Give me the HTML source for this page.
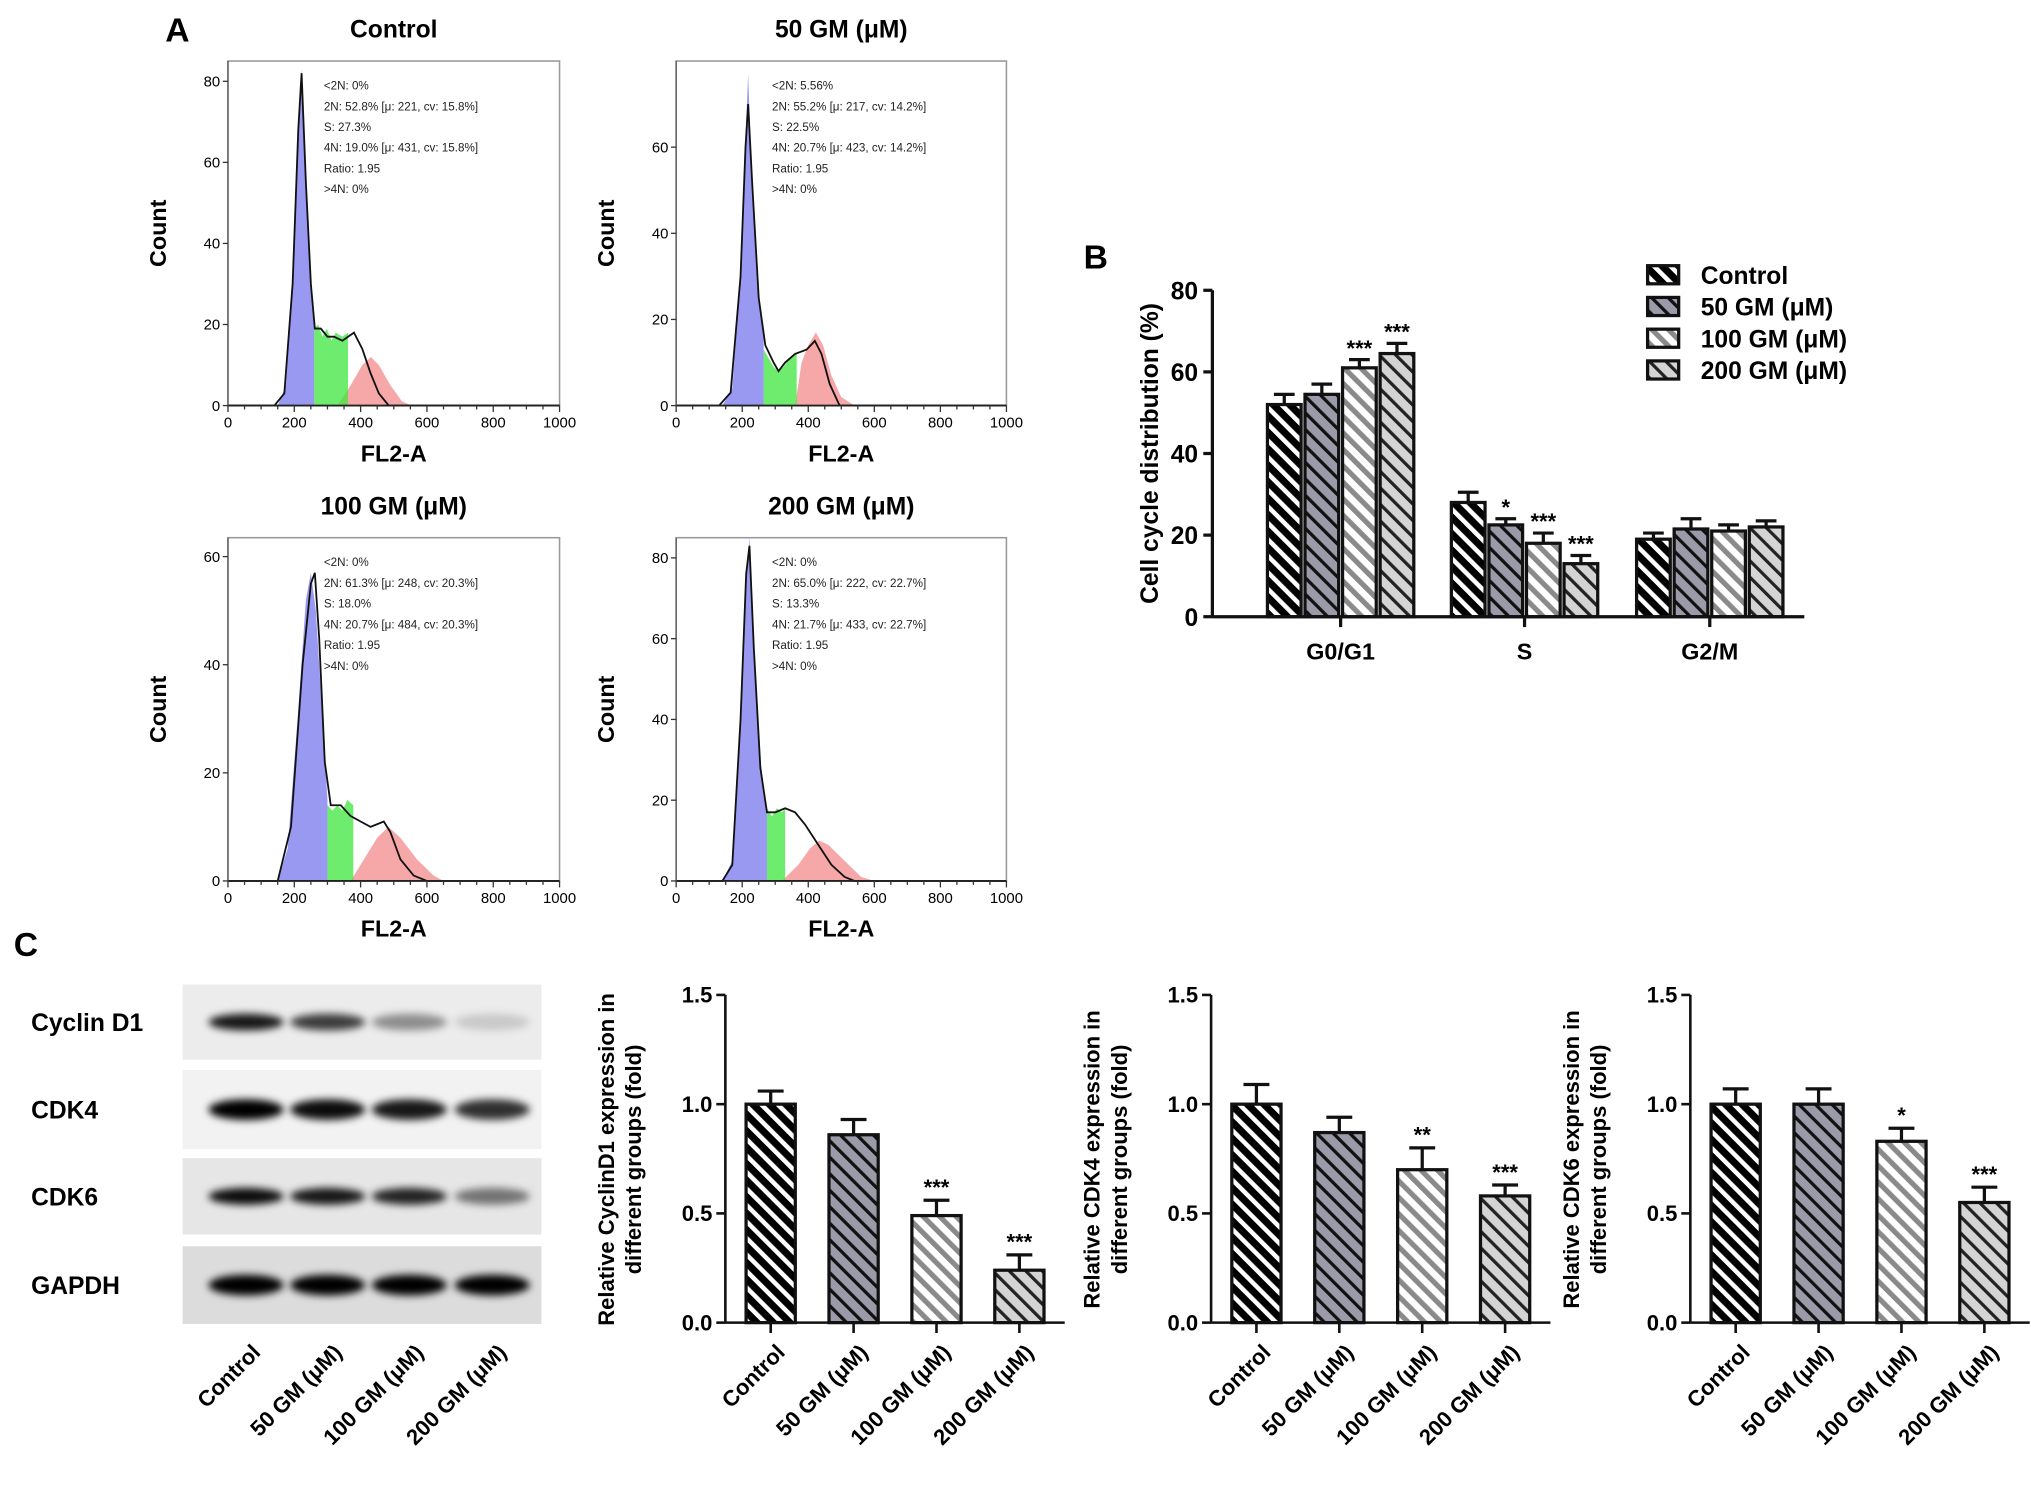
<!DOCTYPE html>
<html><head><meta charset="utf-8"><style>
html,body{margin:0;padding:0;background:#fff;}
svg{display:block;font-family:"Liberation Sans",Arial,sans-serif;}
</style></head><body>
<svg id="fig" width="2031" height="1486" viewBox="0 0 1568 1147" xmlns="http://www.w3.org/2000/svg">
<defs>
<pattern id="p0" patternUnits="userSpaceOnUse" width="9" height="9" patternTransform="rotate(-45)"><rect width="9" height="9" fill="#000"/><rect width="3.5" height="9" fill="#fff"/></pattern>
<pattern id="p1" patternUnits="userSpaceOnUse" width="9" height="9" patternTransform="rotate(-45)"><rect width="9" height="9" fill="#9a9aa8"/><rect width="2.5" height="9" fill="#111"/></pattern>
<pattern id="p2" patternUnits="userSpaceOnUse" width="9" height="9" patternTransform="rotate(-45)"><rect width="9" height="9" fill="#fff"/><rect width="4" height="9" fill="#8a8a8a"/></pattern>
<pattern id="p3" patternUnits="userSpaceOnUse" width="9" height="9" patternTransform="rotate(-45)"><rect width="9" height="9" fill="#d4d4d4"/><rect width="2.5" height="9" fill="#222"/></pattern>
<filter id="blur" x="-20%" y="-50%" width="140%" height="200%"><feGaussianBlur stdDeviation="3"/></filter>
</defs>
</svg>
<script>
// ---------- data ----------
const histTitles = ["Control","50 GM (μM)","100 GM (μM)","200 GM (μM)"];
const histYMax = [85, 80, 63.5, 85];
const histYTicks = [[0,20,40,60,80],[0,20,40,60],[0,20,40,60],[0,20,40,60,80]];
const histStats = [
 ["<2N: 0%","2N: 52.8%   [μ: 221, cv: 15.8%]","S: 27.3%","4N: 19.0%   [μ: 431, cv: 15.8%]","Ratio: 1.95",">4N: 0%"],
 ["<2N: 5.56%","2N: 55.2%   [μ: 217, cv: 14.2%]","S: 22.5%","4N: 20.7%   [μ: 423, cv: 14.2%]","Ratio: 1.95",">4N: 0%"],
 ["<2N: 0%","2N: 61.3%   [μ: 248, cv: 20.3%]","S: 18.0%","4N: 20.7%   [μ: 484, cv: 20.3%]","Ratio: 1.95",">4N: 0%"],
 ["<2N: 0%","2N: 65.0%   [μ: 222, cv: 22.7%]","S: 13.3%","4N: 21.7%   [μ: 433, cv: 22.7%]","Ratio: 1.95",">4N: 0%"]];
const histBlue = [
 [[150,0],[175,5],[195,30],[210,65],[222,83],[232,62],[245,38],[260,20],[260,0]],
 [[140,0],[170,4],[195,30],[210,62],[218,77],[228,55],[245,28],[265,16],[265,0]],
 [[150,0],[180,6],[210,30],[235,52],[250,57],[265,50],[285,30],[300,15],[300,0]],
 [[140,0],[170,5],[195,40],[212,75],[222,85],[235,60],[255,30],[275,17],[275,0]]];
const histGreen = [
 [[260,0],[260,19],[272,20],[285,17],[298,19],[312,16],[325,18],[345,17],[362,18],[362,0]],
 [[265,0],[265,13],[280,11],[295,9],[310,8],[325,9],[345,11],[365,12],[365,0]],
 [[300,0],[300,14],[315,13],[330,14],[345,13],[360,15],[378,14],[378,0]],
 [[275,0],[275,18],[290,16],[305,18],[320,17],[330,18],[330,0]]];
const histRed = [
 [[330,0],[370,5],[405,10],[431,12],[455,10],[490,5],[525,1],[555,0]],
 [[360,0],[380,10],[400,14],[423,17],[445,14],[470,7],[500,2],[540,0]],
 [[370,0],[410,4],[450,8],[484,10],[520,8],[570,4],[620,1],[650,0]],
 [[320,0],[370,4],[405,8],[433,10],[460,9],[510,5],[560,1],[600,0]]];
const histLine = [
 [[0,0],[140,0],[170,3],[195,30],[212,68],[222,82],[235,55],[250,30],[262,19],[280,19],[300,17],[320,17],[345,16],[380,18],[405,14],[430,8],[455,3],[485,0],[1000,0]],
 [[0,0],[130,0],[165,3],[195,30],[210,60],[218,70],[230,52],[250,25],[270,14],[295,10],[310,8],[330,10],[360,12],[395,13],[420,15],[440,12],[465,5],[495,0],[1000,0]],
 [[0,0],[150,0],[190,10],[225,40],[250,55],[262,57],[275,45],[292,22],[310,14],[340,14],[370,12],[400,11],[430,10],[470,11],[490,9],[520,4],[560,1],[600,0],[1000,0]],
 [[0,0],[140,0],[170,4],[195,40],[212,76],[222,83],[235,58],[255,28],[275,17],[300,17],[330,18],[360,17],[390,14],[430,9],[470,4],[510,1],[540,0],[1000,0]]];

const bGroups = ["G0/G1","S","G2/M"];
const bSeries = ["Control","50 GM (μM)","100 GM (μM)","200 GM (μM)"];
const bMeans = [[52,28,19],[54.5,22.5,21.5],[61,18,21],[64.5,13,22]];
const bErr = [[2.5,2.5,1.5],[2.5,1.5,2.5],[2,2.5,1.5],[2.5,2,1.5]];
const bStars = [["","",""],["","*",""],["***","***",""],["***","***",""]];
const bTicks = [0,20,40,60,80];

const cCats = ["Control","50 GM (μM)","100 GM (μM)","200 GM (μM)"];
const cNames = ["CyclinD1","CDK4","CDK6"];
const cMeans = [[1.0,0.86,0.49,0.24],[1.0,0.87,0.70,0.58],[1.0,1.0,0.83,0.55]];
const cErr = [[0.06,0.07,0.07,0.07],[0.09,0.07,0.10,0.05],[0.07,0.07,0.06,0.07]];
const cStars = [["","","***","***"],["","","**","***"],["","","*","***"]];
const cTicks = [0,0.5,1.0,1.5];

const blotRows = ["Cyclin D1","CDK4","CDK6","GAPDH"];
const blotIntensity = [[0.9,0.75,0.4,0.15],[1,0.95,0.9,0.8],[0.95,0.9,0.85,0.5],[1,1,1,1]];

// ---------- helpers ----------
const NS="http://www.w3.org/2000/svg";
const svg=document.getElementById('fig');
function mk(tag,attrs,parent){const e=document.createElementNS(NS,tag);for(const k in attrs)e.setAttribute(k,attrs[k]);(parent||svg).appendChild(e);return e;}
function txt(s,attrs,parent){const e=mk('text',attrs,parent);e.textContent=s;return e;}

// panel letters
let t;
t=txt("A",{x:137,y:32,'font-size':26,'font-weight':'bold','text-anchor':'middle'});

t=txt("B",{x:846,y:207,'font-size':26,'font-weight':'bold','text-anchor':'middle'});

t=txt("C",{x:20,y:738,'font-size':26,'font-weight':'bold','text-anchor':'middle'});


// ---------- histograms ----------
const hPos=[[176,47,432,313],[522,47,777,313],[176,415,432,680],[522,415,777,680]];
for(let i=0;i<4;i++){
  const [x0,y0,x1,y1]=hPos[i];
  const g=mk('g',{});
  
  
  const sx=v=>x0+(x1-x0)*v/1000;
  const sy=v=>y1-(y1-y0)*v/histYMax[i];
  const fr=mk('rect',{x:x0,y:y0,width:x1-x0,height:y1-y0,fill:'none',stroke:'#999','stroke-width':1.2},g);
  
  const tt=txt(histTitles[i],{x:(x0+x1)/2,y:y0-18,'font-size':19,'font-weight':'bold','text-anchor':'middle'},g);
  
  const poly=(pts,fill,name)=>{const p=mk('polygon',{points:pts.map(q=>sx(q[0])+','+sy(q[1])).join(' '),fill:fill},g);
    };
  poly(histRed[i],'rgba(240,110,110,0.6)','g2m-peak');
  poly(histGreen[i],'rgba(60,230,60,0.75)','s-phase');
  poly(histBlue[i],'rgba(110,110,235,0.7)','g1-peak');
  const ln=mk('polyline',{points:histLine[i].map(q=>sx(q[0])+','+sy(q[1])).join(' '),fill:'none',stroke:'#111','stroke-width':1.4},g);
  
  mk('line',{x1:x0,y1:y1,x2:x1,y2:y1,stroke:'#222','stroke-width':1.5},g);
  mk('line',{x1:x0,y1:y0,x2:x0,y2:y1,stroke:'#555','stroke-width':1},g);
  for(let v=0;v<=1000;v+=50){mk('line',{x1:sx(v),y1:y1,x2:sx(v),y2:y1+(v%200==0?5:3),stroke:'#333'},g);}
  for(let v=0;v<=1000;v+=200){const l=txt(String(v),{x:sx(v),y:y1+17,'font-size':11.5,'text-anchor':'middle'},g);
    }
  histYTicks[i].forEach(v=>{mk('line',{x1:x0-4,y1:sy(v),x2:x0,y2:sy(v),stroke:'#333'},g);
    const l=txt(String(v),{x:x0-6,y:sy(v)+4,'font-size':11.5,'text-anchor':'end'},g);
    });
  const xl=txt("FL2-A",{x:(x0+x1)/2,y:y1+43,'font-size':18,'font-weight':'bold','text-anchor':'middle'},g);
  
  const yl=txt("Count",{x:0,y:0,'font-size':18,'font-weight':'bold','text-anchor':'middle',transform:`translate(${x0-48},${(y0+y1)/2}) rotate(-90)`},g);
  
  histStats[i].forEach((s,k)=>{const st=txt(s,{x:x0+74,y:y0+22+k*16,'font-size':9,fill:'#222'},g);
    });
}

// ---------- panel B ----------
(function(){
  const g=mk('g',{});
  
  
  const ax=936, y0=476, yTop=224, xEnd=1393;
  const sy=v=>y0-(y0-yTop)*v/80;
  const gc=[1035,1177,1320], bw=26, step=29;
  bSeries.forEach((s,si)=>{
    bGroups.forEach((gn,gi)=>{
      const cx=gc[gi]+(si-1.5)*step, v=bMeans[si][gi], e=bErr[si][gi];
      mk('line',{x1:cx,y1:sy(v),x2:cx,y2:sy(v+e),stroke:'#111','stroke-width':2.5},g);
      mk('line',{x1:cx-8,y1:sy(v+e),x2:cx+8,y2:sy(v+e),stroke:'#111','stroke-width':2.5},g);
      const r=mk('rect',{x:cx-bw/2,y:sy(v),width:bw,height:y0-sy(v),fill:`url(#p${si})`,stroke:'#111','stroke-width':2.5},g);
      
      
      if(bStars[si][gi]){const st=txt(bStars[si][gi],{x:cx,y:sy(v+e)-3,'font-size':17,'font-weight':'bold','text-anchor':'middle'},g);
        }
    });
  });
  mk('line',{x1:ax,y1:yTop,x2:ax,y2:y0,stroke:'#111','stroke-width':2.5},g);
  mk('line',{x1:ax,y1:y0,x2:xEnd,y2:y0,stroke:'#111','stroke-width':2.5},g);
  bTicks.forEach(v=>{mk('line',{x1:ax-7,y1:sy(v),x2:ax,y2:sy(v),stroke:'#111','stroke-width':2.5},g);
    const l=txt(String(v),{x:ax-11,y:sy(v)+7,'font-size':19,'font-weight':'bold','text-anchor':'end'},g);
    });
  bGroups.forEach((gn,gi)=>{mk('line',{x1:gc[gi],y1:y0,x2:gc[gi],y2:y0+8,stroke:'#111','stroke-width':2.5},g);
    const l=txt(gn,{x:gc[gi],y:y0+33,'font-size':18,'font-weight':'bold','text-anchor':'middle'},g);
    });
  const yl=txt("Cell cycle distribution (%)",{x:0,y:0,'font-size':19,'font-weight':'bold','text-anchor':'middle',transform:`translate(894,350) rotate(-90)`},g);
  
  bSeries.forEach((s,si)=>{
    const y=212+si*24.5;
    const le=mk('g',{},g);
    
    
    mk('rect',{x:1272,y:y-7,width:24,height:14,fill:`url(#p${si})`,stroke:'#111','stroke-width':2.5},le);
    txt(s,{x:1313,y:y+7,'font-size':19,'font-weight':'bold'},le);
  });
})();

// ---------- western blot ----------
(function(){
  const g=mk('g',{});
  
  
  const rowY=[[760,818],[826,887],[894,953],[962,1022]];
  const bg=['#ececec','#f2f2f2','#e6e6e6','#dcdcdc'];
  const lanes=[190,253,316,380];
  blotRows.forEach((rn,ri)=>{
    const [a,b]=rowY[ri];
    mk('rect',{x:141,y:a,width:277,height:b-a,fill:bg[ri]},g);
    const cy=(a+b)/2+(ri==1?0:0);
    lanes.forEach((lx,li)=>{const it=blotIntensity[ri][li];
      const band=mk('ellipse',{cx:lx,cy:cy,rx:29,ry:ri==1||ri==3?8:6.5,fill:'#000','fill-opacity':it,filter:'url(#blur)'},g);
      });
    const l=txt(rn,{x:24,y:cy+7,'font-size':19,'font-weight':'bold'},g);
    
  });
  cCats.forEach((c,i)=>{const l=txt(c,{x:0,y:0,'font-size':17,'font-weight':'bold','text-anchor':'end',transform:`translate(${lanes[i]+12},1045) rotate(-45)`},g);
    });
})();

// ---------- panel C bar charts ----------
const cAxX=[560,935,1305];
cNames.forEach((nm,ci)=>{
  const g=mk('g',{});
  
  
  const ax=cAxX[ci], y0=1021, yTop=768, xEnd=ax+262;
  const sy=v=>y0-(y0-yTop)*v/1.5;
  const bw=38;
  cCats.forEach((c,i)=>{
    const cx=ax+35+i*64, v=cMeans[ci][i], e=cErr[ci][i];
    mk('line',{x1:cx,y1:sy(v),x2:cx,y2:sy(v+e),stroke:'#111','stroke-width':2.5},g);
    mk('line',{x1:cx-10,y1:sy(v+e),x2:cx+10,y2:sy(v+e),stroke:'#111','stroke-width':2.5},g);
    const r=mk('rect',{x:cx-bw/2,y:sy(v),width:bw,height:y0-sy(v),fill:`url(#p${i})`,stroke:'#111','stroke-width':2.5},g);
    
    
    if(cStars[ci][i]){const st=txt(cStars[ci][i],{x:cx,y:sy(v+e)-4,'font-size':17,'font-weight':'bold','text-anchor':'middle'},g);
      }
    mk('line',{x1:cx,y1:y0,x2:cx,y2:y0+8,stroke:'#111','stroke-width':2},g);
    const l=txt(c,{x:0,y:0,'font-size':17,'font-weight':'bold','text-anchor':'end',transform:`translate(${cx+12},1045) rotate(-45)`},g);
    
  });
  mk('line',{x1:ax,y1:yTop,x2:ax,y2:y0,stroke:'#111','stroke-width':2},g);
  mk('line',{x1:ax,y1:y0,x2:xEnd,y2:y0,stroke:'#111','stroke-width':2},g);
  cTicks.forEach(v=>{mk('line',{x1:ax-7,y1:sy(v),x2:ax,y2:sy(v),stroke:'#111','stroke-width':2},g);
    const l=txt(v.toFixed(1),{x:ax-10,y:sy(v)+6,'font-size':17,'font-weight':'bold','text-anchor':'end'},g);
    });
  const yl=mk('text',{x:0,y:0,'font-size':17,'font-weight':'bold','text-anchor':'middle',transform:`translate(${ax-86},895) rotate(-90)`},g);
  
  const t1=mk('tspan',{x:0,dy:0},yl);t1.textContent='Relative '+nm+' expression in';
  const t2=mk('tspan',{x:0,dy:21},yl);t2.textContent='different groups (fold)';
});
</script>
</body></html>
